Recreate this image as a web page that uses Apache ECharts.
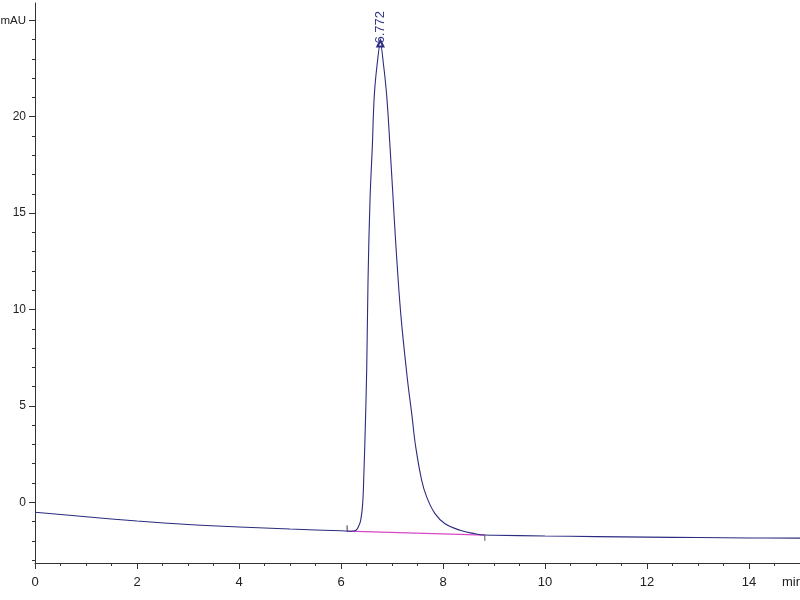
<!DOCTYPE html>
<html><head><meta charset="utf-8">
<script src="https://cdn.jsdelivr.net/npm/echarts@6/dist/echarts.min.js"></script>
<style>html,body{margin:0;padding:0;background:#fff}#c{width:800px;height:600px}</style>
</head><body><div id="c"></div>
<script>
const timeMin = [0,1,2,3,4,5,6,6.2,6.294,6.339,6.386,6.425,6.451,6.471,6.504,6.529,6.569,6.614,6.653,6.712,6.772,6.829,6.896,6.961,7.014,7.078,7.171,7.304,7.386,7.465,7.582,7.68,7.843,8.039,8.333,8.627,8.824,9,10,11,12,13,14,15];
const signal = [-0.52,-0.75,-0.97,-1.15,-1.28,-1.39,-1.48,-1.50,-1.45,-1.28,-0.94,-0.07,1.66,3.39,6.86,11.36,15.7,18.45,21.1,22.8,23.8,22.8,21.1,18.45,16.1,13.26,9.8,6.34,4.61,2.87,1.14,0.28,-0.59,-1.11,-1.45,-1.63,-1.70,-1.71,-1.75,-1.78,-1.81,-1.83,-1.85,-1.86];
const peakTime = 6.772;
const peakValue = 23.8;
const peakLabel = '6.772';
const baselineTime = [6.12, 8.82];
const baselineValue = [-1.50, -1.70];
const startMarkTime = [6.12, 6.12];
const startMarkValue = [-1.50, -1.20];
const endMarkTime = [8.82, 8.82];
const endMarkValue = [-1.70, -2.00];
const xMajorTicks = [0,2,4,6,8,10,12,14];
const xMinorTicks = [0,0.5,1,1.5,2,2.5,3,3.5,4,4.5,5,5.5,6,6.5,7,7.5,8,8.5,9,9.5,10,10.5,11,11.5,12,12.5,13,13.5,14,14.5,15];
const yMajorTicks = [0,5,10,15,20,25];
const yMinorTicks = [-3,-2,-1,0,1,2,3,4,5,6,7,8,9,10,11,12,13,14,15,16,17,18,19,20,21,22,23,24,25];
const xUnit = 'min';
const yUnit = 'mAU';

const chart = echarts.init(document.getElementById('c'));
const axisColor = '#333';
const font = {fontFamily:'Liberation Sans, Arial, sans-serif', fontSize:13, color:'#222'};
const yFont = {fontFamily:'Liberation Sans, Arial, sans-serif', fontSize:12, color:'#222'};
chart.setOption({
  animation:false,
  grid:{left:35, right:0, top:3, bottom:37, containLabel:false, outerBoundsMode:'none'},
  xAxis:[
    {type:'value', min:0, max:15, position:'bottom',
     axisLine:{show:true, onZero:false, lineStyle:{color:axisColor}},
     axisTick:{show:true, length:6, customValues:xMajorTicks, lineStyle:{color:axisColor}},
     axisLabel:{show:true, customValues:xMajorTicks, margin:13, ...font},
     splitLine:{show:false}},
    {type:'value', min:0, max:15, position:'bottom',
     name:xUnit, nameLocation:'end', nameGap:-18,
     nameTextStyle:{...font, align:'left', verticalAlign:'top', padding:[13,0,0,0]},
     axisLine:{show:false, onZero:false},
     axisTick:{show:true, length:3, customValues:xMinorTicks, lineStyle:{color:axisColor}},
     axisLabel:{show:false},
     splitLine:{show:false}}
  ],
  yAxis:[
    {type:'value', min:-3.15, max:25.9, position:'left',
     axisLine:{show:true, onZero:false, lineStyle:{color:axisColor}},
     axisTick:{show:true, length:6, customValues:yMajorTicks, lineStyle:{color:axisColor}},
     axisLabel:{show:true, showMaxLabel:true, customValues:yMajorTicks,
       formatter:(v)=> v===25 ? '{u|' + yUnit + '}' : String(v), margin:9, ...yFont,
       rich:{u:{fontFamily:'Liberation Sans, Arial, sans-serif', fontSize:11.5, color:'#222'}}},
     splitLine:{show:false}},
    {type:'value', min:-3.15, max:25.9, position:'left',
     axisLine:{show:false, onZero:false},
     axisTick:{show:true, length:3, customValues:yMinorTicks, lineStyle:{color:axisColor}},
     axisLabel:{show:false},
     splitLine:{show:false}}
  ],
  series:[
    {type:'line', data:baselineTime.map((t,i)=>[t,baselineValue[i]]), symbol:'none',
     lineStyle:{color:'#d848c8', width:1.2}, z:2},
    {type:'line', data:timeMin.map((t,i)=>[t,signal[i]]), showSymbol:false, symbol:'none', smooth:0.4,
     lineStyle:{color:'#2b2b80', width:1.1}, z:3,
     markPoint:{symbol:'emptyTriangle', symbolSize:6, silent:true,
       itemStyle:{color:'#2b2b80', borderColor:'#2b2b80'},
       data:[{coord:[peakTime, peakValue],
         label:{show:true, formatter:peakLabel, rotate:90, position:'top', distance:-4, align:'left', verticalAlign:'middle',
           color:'#34348a', fontFamily:'Liberation Sans, Arial, sans-serif', fontSize:13}}]}},
    {type:'line', data:startMarkTime.map((t,i)=>[t,startMarkValue[i]]), symbol:'none',
     lineStyle:{color:'#333', width:1}, z:4},
    {type:'line', data:endMarkTime.map((t,i)=>[t,endMarkValue[i]]), symbol:'none',
     lineStyle:{color:'#555', width:1}, z:4}
  ]
});
</script></body></html>
